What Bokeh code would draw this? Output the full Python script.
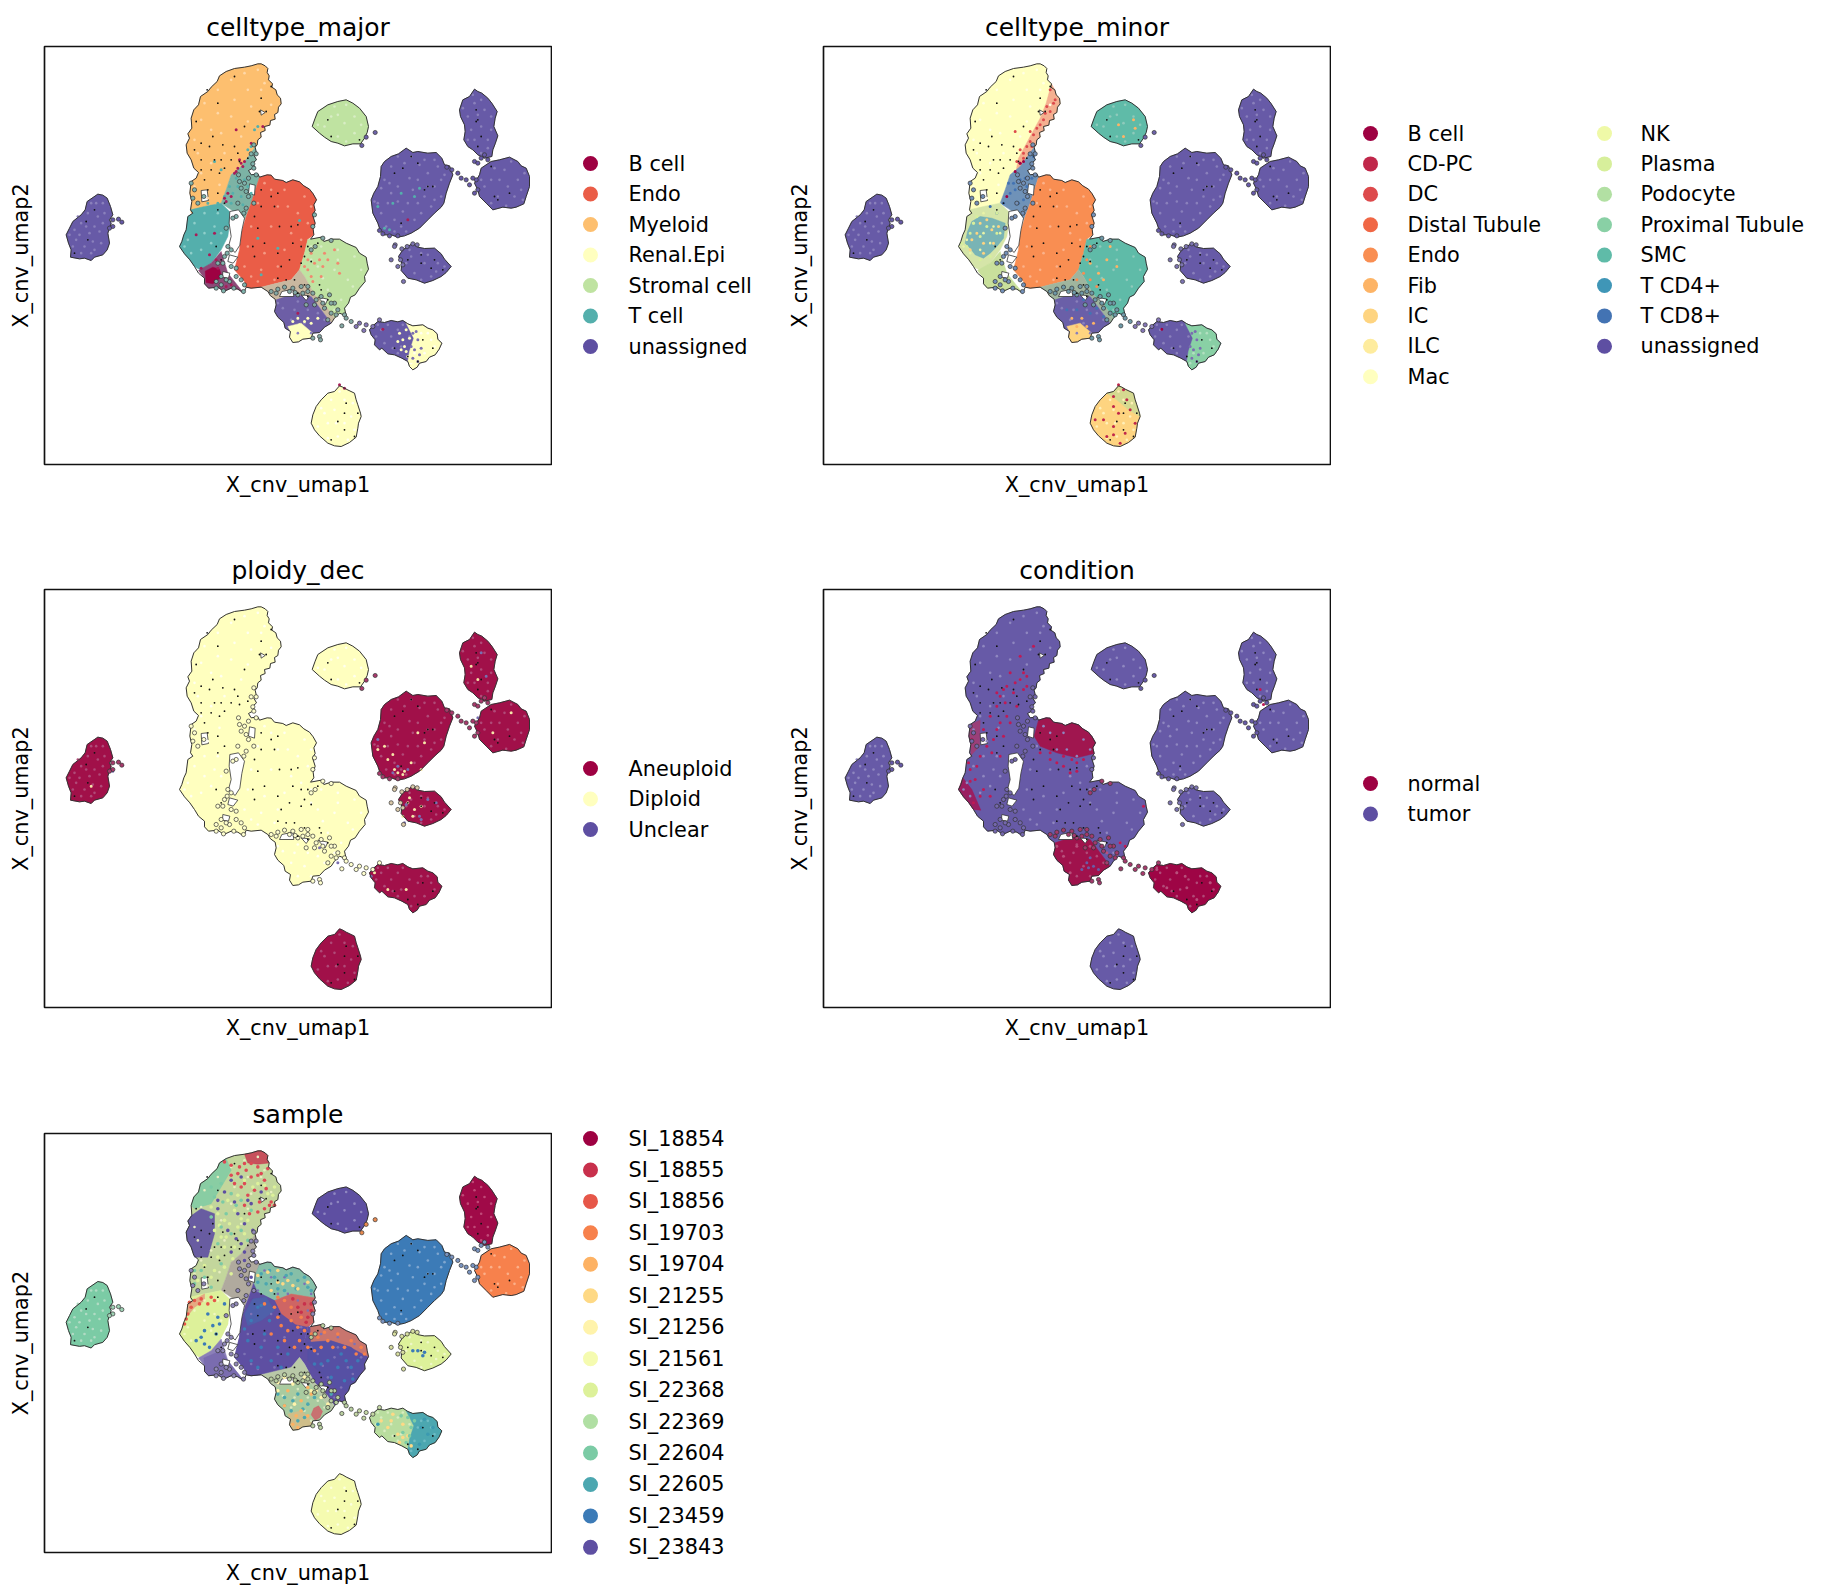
from bokeh.embed import file_html
from bokeh.resources import INLINE
from bokeh.layouts import column, row
from bokeh.models import Range1d
from bokeh.plotting import figure
from bokeh.core.properties import value

# ---------- titles / legends ----------
titles = ["celltype_major", "celltype_minor", "ploidy_dec", "condition", "sample"]
major_labels = ["B cell", "Endo", "Myeloid", "Renal.Epi", "Stromal cell", "T cell", "unassigned"]
major_colors = ["#9e0142", "#ea5d47", "#fdbf6f", "#ffffbf", "#bfe3a1", "#54afac", "#5e4fa2"]
minor_labels = ["B cell", "CD-PC", "DC", "Distal Tubule", "Endo", "Fib", "IC", "ILC", "Mac",
                "NK", "Plasma", "Podocyte", "Proximal Tubule", "SMC", "T CD4+", "T CD8+", "unassigned"]
minor_colors = ["#9e0142", "#c0274a", "#dd4a4c", "#f06745", "#f98e52", "#fdb466", "#fed480", "#feec9e", "#ffffbf",
                "#eff9a7", "#d7ef9b", "#b2e0a3", "#89d0a5", "#5fbba8", "#3f96b7", "#4373b3", "#5e4fa2"]
ploidy_labels = ["Aneuploid", "Diploid", "Unclear"]
ploidy_colors = ["#9e0142", "#ffffbf", "#5e4fa2"]
cond_labels = ["normal", "tumor"]
cond_colors = ["#9e0142", "#5e4fa2"]
sample_labels = ["SI_18854", "SI_18855", "SI_18856", "SI_19703", "SI_19704", "SI_21255", "SI_21256", "SI_21561",
                 "SI_22368", "SI_22369", "SI_22604", "SI_22605", "SI_23459", "SI_23843"]
sample_colors = ["#9e0142", "#c8304c", "#e65749", "#f7814c", "#fdb264", "#fed985", "#fff3ab", "#f5fbb0",
                 "#ddf19a", "#b0dfa3", "#7bcba5", "#4ca7b0", "#3c7bb7", "#5e4fa2"]

# ---------- cluster outlines (umap-like units, y down) ----------
mainland = [(640,52),(650,52),(662,58),(670,66),(668,78),(674,88),(672,100),(684,112),(682,122),(694,130),(698,145),(708,155),(710,172),(702,182),(700,198),
            (690,204),(692,218),(678,222),(676,236),(660,240),(662,252),(648,258),(650,272),(640,280),(638,295),(632,302),(636,320),(628,326),(636,340),(625,350),
            (630,362),(612,372),(620,385),(640,382),(645,392),(668,385),(680,386),(690,398),(715,402),(725,408),(745,400),(765,406),(778,418),(795,428),(806,442),
            (816,460),(808,475),(812,492),(804,505),(812,530),(806,548),(808,565),(798,578),(830,572),(838,585),(860,578),(885,578),(905,590),(935,603),(945,620),
            (965,632),(968,650),(972,668),(960,690),(962,705),(945,725),(932,745),(918,752),(912,770),(900,785),(905,808),(885,800),(870,815),(860,830),(840,842),
            (825,858),(805,860),(800,875),(775,878),(762,886),(745,888),(735,872),(738,855),(722,845),(718,828),(700,812),(690,795),(695,775),(692,758),(678,748),
            (670,735),(650,722),(620,725),(605,722),(598,740),(580,728),(560,725),(538,735),(520,722),(492,725),(480,712),(480,695),(462,680),(450,660),(436,640),
            (420,622),(405,600),(412,585),(418,565),(425,550),(430,510),(445,500),(438,490),(442,465),(436,440),(440,405),(455,395),(462,378),(448,365),(440,340),
            (428,320),(425,295),(435,275),(430,262),(442,245),(440,215),(448,190),(462,175),(468,150),(490,135),(500,122),(518,105),(525,88),(545,75),(570,66),(600,62),(620,58)]
hole_a = [(470,432),(488,430),(492,462),(472,466)]
hole_b = [(556,495),(582,490),(600,515),(592,552),(586,596),(572,618),(552,600),(560,570),(554,530)]
hole_c = [(615,412),(632,416),(630,446),(612,440)]
hole_d = [(712,735),(745,728),(748,750),(705,750)]
hole_e = [(555,625),(580,632),(566,650),(550,645)]
hole_f = [(535,675),(556,680),(552,695),(534,692)]
hole_g = [(648,190),(662,198),(650,206)]
hole_h = [(770,745),(795,748),(785,762)]
hole_i = [(820,752),(850,758),(842,775)]

u_upper = [(640,52),(650,52),(662,58),(670,66),(668,78),(674,88),(672,100),(684,112),(682,122),(694,130),(698,145),(708,155),(710,172),(702,182),(700,198),(690,204),(692,218),(678,222),(676,236),
           (660,240),(662,252),(648,258),(650,272),(640,280),(638,295),(632,302),(590,360),(560,385),(545,430),(530,470),(480,480),(440,500),
           (438,490),(442,465),(436,440),(440,405),(455,395),(462,378),(448,365),(440,340),(428,320),(425,295),(435,275),(430,262),(442,245),(440,215),(448,190),(462,175),(468,150),(490,135),(500,122),(518,105),(525,88),(545,75),(570,66),(600,62),(620,58)]
u_bridge = [(590,360),(632,302),(636,320),(628,326),(636,340),(625,350),(630,362),(612,372),(620,385),(640,382),(645,392),(620,470),(600,520),(560,490),(530,470),(545,430),(560,385)]
u_left = [(438,490),(480,480),(530,470),(560,500),(550,570),(530,610),(500,650),(470,672),(450,660),(436,640),(420,622),(405,600),(412,585),(418,565),(425,550),(430,510),(445,500)]
u_left_core = [(445,525),(470,510),(505,515),(545,530),(540,575),(520,600),(500,620),(480,635),(455,625),(440,605),(425,590),(432,555)]
u_bcell = [(462,672),(500,650),(530,615),(550,680),(598,740),(580,728),(560,725),(538,735),(520,722),(492,725),(480,712),(480,695)]
u_bcell_core = [(482,674),(505,662),(525,668),(532,690),(505,712),(485,708)]
u_endo = [(645,392),(668,385),(680,386),(690,398),(715,402),(725,408),(745,400),(765,406),(778,418),(795,428),(806,442),(816,460),(808,475),(812,492),(804,505),(812,530),(806,548),(808,565),(790,578),
          (780,620),(765,670),(740,700),(690,712),(650,722),(620,725),(605,722),(600,705),(570,670),(585,610),(590,560),(605,510),(620,470)]
u_stromal = [(798,578),(830,572),(838,585),(860,578),(885,578),(905,590),(935,603),(945,620),(965,632),(968,650),(972,668),(960,690),(962,705),(945,725),(932,745),(918,752),(912,770),(900,785),(905,808),
             (885,800),(870,815),(845,780),(810,745),(780,690),(765,670),(780,620),(790,578)]
u_gap = [(650,722),(690,712),(740,700),(765,670),(780,690),(810,745),(845,780),(870,815),(860,830),(800,750),(740,745),(695,775),(692,758),(678,748),(670,735)]
u_lower = [(695,760),(740,745),(800,750),(860,830),(840,842),(825,858),(805,860),(800,875),(775,878),(762,886),(745,888),(735,872),(738,855),(722,845),(718,828),(700,812),(690,795),(695,775)]
u_lower_tip = [(730,840),(770,830),(805,860),(800,875),(775,878),(762,886),(745,888),(735,872),(738,855)]
tail = [(1000,825),(1020,828),(1040,822),(1060,826),(1075,822),(1090,832),(1105,838),(1135,835),(1150,845),(1165,850),(1178,862),(1180,878),(1192,890),(1184,908),(1172,925),(1155,932),(1145,945),(1125,950),(1118,962),(1105,970),(1095,960),(1090,945),(1072,935),
        (1050,925),(1030,922),(1012,905),(1005,910),(990,895),(992,880),(980,865),(975,850),(985,838)]
tail_east = [(1085,830),(1105,838),(1135,835),(1150,845),(1165,850),(1178,862),(1180,878),(1192,890),(1184,908),(1172,925),(1155,932),(1145,945),(1125,950),(1118,962),(1105,970),(1095,960),(1090,945),(1095,915),(1108,875)]
right_top = [(1290,128),(1300,135),(1312,140),(1330,155),(1342,170),(1358,195),(1352,215),(1348,240),(1360,268),(1352,292),(1345,310),(1342,330),(1320,335),(1300,325),(1285,310),(1270,300),(1258,280),(1262,255),(1260,235),
             (1248,210),(1245,190),(1255,160),(1275,150)]
right_mid = [(1340,345),(1365,340),(1395,332),(1420,345),(1430,358),(1445,365),(1455,390),(1455,420),(1445,450),(1438,472),(1415,482),(1400,485),(1375,482),(1345,490),(1325,470),(1305,450),(1300,430),(1290,410),(1305,385),(1310,365)]
big_blob = [(1085,305),(1105,318),(1120,315),(1150,320),(1175,318),(1192,335),(1200,355),(1215,358),(1225,385),(1215,410),(1205,440),(1198,470),(1190,482),(1170,500),(1150,520),(1125,545),(1100,560),(1080,568),(1060,572),(1040,565),(1020,565),(1005,545),(1000,530),
            (985,500),(980,460),(988,440),(1000,420),(1008,390),(1010,360),(1020,345),(1040,330),(1062,322)]
small_blob = [(1105,590),(1120,602),(1140,606),(1170,605),(1190,622),(1200,638),(1220,660),(1205,678),(1190,690),(1165,702),(1140,710),(1115,700),(1090,695),(1070,672),(1072,650),(1062,630),(1075,610)]
top_blob = [(880,165),(905,160),(925,170),(945,185),(965,210),(972,240),(968,258),(960,275),(948,292),(925,292),(900,298),(880,290),(860,285),(840,272),(825,260),(803,240),(812,215),(820,195),(850,175)]
left_blob = [(160,443),(175,446),(188,455),(198,480),(205,505),(195,520),(200,530),(190,560),(195,590),(188,610),(175,625),(150,632),(140,642),(120,635),(105,637),(78,632),(80,610),(72,590),(65,565),(75,545),(85,525),(110,505),(122,490),(128,465)]
bottom_blob = [(885,1018),(895,1022),(905,1028),(930,1040),(935,1060),(940,1075),(948,1100),(950,1110),(942,1130),(940,1145),(935,1172),(915,1188),(890,1200),(870,1198),(850,1190),(825,1168),(810,1150),(800,1130),(805,1105),(815,1080),(830,1060),(850,1040),(870,1035)]
bottom_cap = [(885,1018),(895,1022),(905,1028),(930,1040),(935,1060),(940,1075),(948,1100),(950,1110),(915,1090),(880,1060),(850,1040),(870,1035)]

# sub-areas used by the mixed panels
minor_band = [(684,112),(694,130),(698,145),(708,155),(710,172),(702,182),(700,198),(690,204),(692,218),(678,222),(676,236),(660,240),(662,252),(648,258),(650,272),(640,280),(638,295),(632,302),(605,350),(575,388),(585,335),(620,270),(650,215),(668,170)]
cond_endo = [(645,392),(668,385),(680,386),(690,398),(715,402),(725,408),(745,400),(765,406),(778,418),(795,428),(806,442),(816,460),(808,475),(812,492),(760,505),(700,490),(650,470),(632,440)]
cond_rim_a = [(440,405),(470,392),(468,470),(442,498),(442,465),(436,440)]
cond_rim_b = [(405,600),(418,565),(445,600),(472,662),(450,660),(436,640),(420,622)]
s_tip = [(600,62),(620,58),(640,52),(650,52),(662,58),(670,66),(668,78),(674,88),(640,92),(610,88)]
s_topleft = [(468,150),(490,135),(500,122),(518,105),(525,88),(545,75),(560,110),(530,160),(500,210),(450,225),(440,215),(448,190),(462,175)]
s_midleft = [(442,245),(470,225),(510,240),(510,300),(490,370),(450,370),(440,340),(428,320),(425,295),(435,275),(430,262)]
s_leftmain = [(438,490),(480,480),(530,490),(550,570),(530,610),(510,650),(470,672),(450,660),(436,640),(420,622),(405,600),(412,585),(418,565),(425,550),(430,510),(445,500)]
s_leftpurple = [(478,672),(530,650),(550,680),(598,740),(580,728),(560,725),(538,735),(520,722),(492,725),(480,712),(480,695)]
s_leftred = [(430,510),(445,500),(480,480),(480,500),(450,520),(430,545)]
s_endotop = [(645,392),(668,385),(680,386),(690,398),(715,402),(725,408),(745,400),(765,406),(778,418),(795,428),(806,442),(816,460),(808,475),(812,492),(740,480),(690,500),(640,475),(625,440)]
s_endored = [(690,500),(740,480),(812,492),(804,505),(812,530),(806,548),(808,565),(790,578),(750,570),(710,540)]
s_endopurple = [(640,475),(690,500),(710,540),(750,570),(780,620),(765,670),(740,700),(690,712),(650,722),(620,725),(605,722),(600,705),(570,670),(585,610),(590,560),(605,510)]
s_endoblue = [(625,495),(665,490),(690,530),(650,560),(610,575),(600,540)]
s_strorange = [(798,578),(830,572),(838,585),(860,578),(885,578),(905,590),(935,603),(945,620),(965,632),(968,650),(972,668),(920,640),(860,620),(800,625)]
s_strpurple = [(790,625),(860,620),(920,640),(960,680),(945,725),(932,745),(918,752),(912,770),(870,760),(830,720),(790,680)]
s_lowerred = [(808,822),(822,815),(834,832),(826,850),(812,858),(800,842)]

# stray cells at the edges of the clouds
strays_gap = [(680,735),(695,740),(720,722),(745,725),(770,720),(790,735),(805,740),(830,750),(855,745),(870,770),(880,790),(900,805),(905,815),(920,825),(892,838),
              (825,870),(828,880),(805,875),(790,720),(760,745),(775,740),(810,775),(840,785),(860,800),(850,820),(700,728),(735,735),(752,738),(815,760),(835,770),(785,775),(860,770),(875,805),(835,575),(860,582),(812,600),(800,610)]
strays_bridge = [(628,295),(620,322),(635,322),(625,352),(628,365),(635,385),(612,395),(600,410),(585,405),(612,450),(628,470),(605,485),(598,500),(575,510),(545,545),(550,600),(540,630),(535,650),
                 (575,690),(600,715),(597,735),(568,725),(537,733),(515,725),(440,410),(450,430),(445,455),(478,450),(460,470),(520,650),(560,660),(575,665),(810,505),(805,540),(590,425),(605,435),(580,470),(565,515),
                 (548,620),(560,610),(590,700),(555,705),(530,715),(545,700),(530,690),(515,705),(582,385)]
strays_left = [(205,520),(222,518),(232,527),(205,540),(195,545)]
strays_tail = [(1005,820),(945,830),(935,840),(965,835),(958,852),(985,840)]
strays_right = [(1207,362),(1222,370),(1240,380),(1250,395),(1265,400),(1275,415),(1290,345),(1300,350),(1295,400),(1300,430),(1005,552),(1015,562),(1035,568),(1060,568),(1285,395),(1290,440),(1310,335),(1330,340),(1320,325)]
strays_small = [(1052,595),(1050,600),(1072,607),(1088,600),(1040,640),(1060,660),(1077,705),(1105,592),(1118,595),(1068,640),(1075,655)]
strays_top = [(992,258),(952,297),(965,272)]

# dark flecks where the outline layer shows through the cloud
flecks = [(570,90),(488,130),(680,120),(650,155),(645,195),(665,195),(520,170),(455,225),(505,270),(600,240),(570,300),(535,295),
          (470,340),(450,310),(510,340),(540,365),(525,380),(480,400),(650,430),(700,440),(690,480),(630,510),(760,535),(740,540),
          (630,630),(700,620),(660,590),(745,590),(770,600),(725,700),(700,695),(760,740),(790,750),(850,760),(1165,420),(1150,420),
          (1075,365),(1120,350),(1295,225),(1300,220),(1300,300),(1340,360),(1350,450),(150,490),(125,525),(130,580),(90,620),
          (1170,640),(1130,650),(1195,670),(1090,640),(905,1070),(900,1100),(880,1125),(930,1170),(850,220),(1050,380),(560,340),
          (580,320),(470,290),(500,370),(520,440),(540,470),(820,590),(790,600),(770,650),(750,700),(780,715),(830,730),(1135,880),(1090,930),
          (495,300),(530,340),(585,345),(610,335),(650,480),(680,450),(705,540),(735,640),(780,630),(625,600),(640,545),(710,660),(800,645),(825,715),(470,370),(490,430),(520,490),(515,600),(530,640),
          (1295,190),(1310,270),(1360,460),(1395,440),(1100,330),(1140,430),(1070,530),(1130,625),(1160,665),(900,1150),(860,1180),(940,1100),(860,270),(945,280),(1050,905),(1120,945),(1165,905)]

# pale stipple per cloud
stip_left = [(140,470),(110,530),(150,540),(95,580),(160,510),(120,600),(170,590),(135,560),(90,550),(150,610),(175,530),(110,620),(155,470),(175,470),(130,500),(165,555),(85,600),(100,510),(140,620),(180,500),(125,540),(145,585),(75,565),(105,565)]
stip_big = [(1080,350),(1120,400),(1060,420),(1150,380),(1030,470),(1090,470),(1140,450),(1050,520),(1110,520),(1000,470),(1170,420),(1020,400),(1180,360),(1070,540),(1130,500),(1040,360),
            (1100,330),(1060,330),(1140,340),(1170,340),(1200,385),(1190,450),(1160,480),(1010,500),(1025,540),(1085,555),(1040,440),(1105,430),(1075,495),(1125,355),(1035,410),(990,465),(1150,420),(1010,425),(1170,460),(1095,395),(1060,465),(1120,470),(1190,400),(1050,555)]
stip_rtop = [(1290,170),(1320,190),(1270,210),(1310,240),(1290,280),(1330,280),(1340,210),(1280,250),(1285,145),(1310,160),(1255,185),(1340,250),(1310,320),(1270,280),(1300,205),(1330,305)]
stip_rmid = [(1340,400),(1380,370),(1420,400),(1360,450),(1410,450),(1320,420),(1390,420),(1430,430),(1350,365),(1400,345),(1440,380),(1310,400),(1340,470),(1385,478),(1435,460),(1365,400)]
stip_small = [(1100,630),(1140,650),(1180,650),(1110,680),(1160,690),(1130,620),(1085,650),(1200,660),(1150,625),(1130,700),(1175,675),(1095,610)]
stip_tailw = [(1010,850),(1040,870),(1070,900),(1060,850),(1020,890),(1095,870),(995,870),(1045,905),(1030,835),(1075,835),(1000,835),(1060,920)]
stip_bottom = [(870,1090),(900,1130),(850,1130),(880,1170),(920,1110),(840,1100),(900,1060),(860,1060),(820,1140),(930,1150),(910,1180),(850,1175),(875,1130),(925,1070),(885,1035),(830,1085)]
stip_top = [(860,210),(900,230),(930,260),(880,270),(930,210),(840,240),(905,175),(950,235),(870,180),(820,235),(905,285),(880,205)]
stip_upper = [(600,80),(640,70),(560,100),(520,130),(610,130),(570,160),(480,170),(650,130),(520,200),(470,220),(620,180),(560,210),(500,250),(450,280),(590,270),(530,260),(460,320),(540,320),(500,350),(470,380),(610,225),(680,175),(660,110),(450,420),(490,455),(525,415)]
stip_endo = [(660,410),(720,430),(780,450),(640,470),(700,480),(760,500),(620,540),(680,540),(740,560),(610,600),(660,620),(720,610),(770,580),(600,660),(650,670),(700,660),(640,705),(690,700),(800,480),(730,480),(680,430),(790,530),(620,690)]
stip_str = [(830,600),(880,610),(930,630),(950,670),(820,660),(870,670),(910,700),(850,730),(890,760),(800,640),(925,720),(880,640),(835,695),(800,600),(870,790)]
stip_tcell = [(450,530),(480,560),(510,540),(430,580),(470,610),(500,590),(440,620),(480,500),(520,500),(530,560),(420,600)]
stip_lower = [(715,785),(750,790),(790,790),(820,800),(740,820),(780,830),(800,860),(760,860),(840,820),(700,770),(760,765)]
stip_taile = [(1130,860),(1160,880),(1110,920),(1140,920),(1170,900),(1120,880),(1100,950),(1150,860)]

# marks of other classes, placed as seen in each panel
maj_teal = [(600,400),(580,420),(590,450),(565,440),(560,470),(610,420),(575,395),(620,440),(595,475),(585,385),(630,250),(610,310),(640,240),(620,300),(510,345),(530,370),(545,500),(555,420),(540,450),(520,470),(490,470),(460,490),(500,480)]
maj_red = [(590,350),(600,345),(575,375),(560,450),(545,465),(580,365),(550,440),(655,240),(620,290),(575,250),(510,560),(455,565),(495,625),(530,650),(515,640),(1090,520),(1015,848),(760,800),(885,1015),(900,1025),(570,380),(595,360),(585,340),(540,455),(520,665),(470,665),(545,720),(560,715)]
maj_str_red = [(840,620),(880,650),(830,690),(885,680),(850,640),(810,650),(800,690),(870,610),(835,660),(790,640),(780,660),(800,620),(825,640),(790,670),(805,705)]
maj_tail_yel = [(1075,880),(1085,850),(1070,910),(1090,930),(1100,945),(1065,860),(1080,900),(1060,885),(1095,875),(1085,915)]
maj_tail_pur = [(1120,880),(1110,910),(1125,925),(1105,860),(1120,945),(1100,900),(1105,935),(1115,855),(1130,905)]
maj_low_yel = [(760,815),(780,825),(800,830),(820,815),(745,825),(765,835),(790,815)]
maj_end_teal = [(765,522),(640,575),(700,605),(650,685),(1045,470),(1125,425),(1070,440),(1020,545),(1035,550),(1000,480),(1110,450)]

min_band = [(670,180),(680,195),(660,220),(640,245),(620,285),(600,320),(575,255),(590,350),(610,300),(690,170),(650,235),(630,265),(680,130),(695,160),(665,200),(620,255),(600,335),(580,345),(625,300),(590,310)]
min_dark = [(590,350),(575,375),(600,345),(550,450),(1015,848)]
min_blue = [(590,400),(575,430),(610,420),(540,470),(560,440),(600,460),(625,395),(585,470),(555,410),(630,330),(520,500),(500,480),(605,395),(570,410)]
min_plasma = [(440,560),(470,640),(430,600),(450,530),(500,630),(415,590),(460,510),(520,500),(490,540),(520,560),(470,570)]
min_yellow = [(445,580),(480,620),(460,560),(510,590),(525,540),(490,520),(470,530),(505,550),(440,610),(480,590)]
min_red_bt = [(870,1080),(840,1120),(870,1140),(905,1160),(850,1170),(890,1190),(815,1120),(910,1060),(885,1015),(900,1030),(935,1130),(870,1050),(870,1165),(885,1100),(920,1090)]
min_smc_o = [(850,640),(880,660),(840,700),(930,220),(885,235),(800,650),(860,600),(825,680),(935,245),(900,270)]
min_orange_gap = [(760,700),(790,640),(780,680),(800,700),(775,620),(820,720),(800,600)]
min_lower_blue = [(760,790),(800,800),(820,785),(780,760),(730,790),(840,810)]
min_lower_o = [(760,840),(790,840),(745,815),(810,830),(775,815)]

con_red_up = [(530,320),(550,290),(590,270),(570,310),(545,340),(600,300),(520,350),(580,350),(610,260),(560,250),(590,200),(630,170),(550,380),(500,380),(520,420),(470,500),(480,420),(540,440),
              (505,490),(440,540),(480,600),(500,620),(450,640),(455,570),(700,520),(740,550),(760,520),(720,500),(780,510),(650,490),(680,510),(960,650),(905,770),(870,770),(890,760),(1310,300),(1320,345),
              (540,300),(575,280),(610,290),(520,310),(600,250),(530,400),(510,450),(560,400),(490,470),(530,500),(440,575),(470,620),(460,530),(435,520),(445,450),(720,530),(760,545),(680,490),(745,510)]
con_pur_low = [(790,820),(810,830),(800,805),(825,840),(775,840),(795,835)]
con_red_low = [(700,770),(720,800),(760,770),(800,770),(850,790),(880,795),(1090,895),(1000,840),(1030,895),(1120,930),(1060,850),(740,850),(1160,880),(1085,860)]

plo_yel = [(1000,480),(1030,510),(1060,550),(1080,545),(1020,470),(1120,430),(1045,495),(1100,520),(1140,460),(1130,540),(1090,640),(1110,660),(1075,680),(1300,270),(1280,230),(1400,370),(1345,430),(140,590),
           (1085,900),(1030,900),(990,850),(1130,650),(1050,540),(1075,555),(1095,625),(1105,680)]
plo_pur = [(1045,550),(1090,540),(1000,450),(1310,190),(1325,260),(1300,385),(1085,645),(1130,690),(1080,700),(1150,630),(980,860),(825,775),(880,820),(205,545),(1060,530),(1125,680),(1175,640)]

sam_up_red = [(600,90),(640,100),(620,130),(660,140),(580,120),(590,160),(610,185),(680,205),(660,225),(630,170),(650,120),(570,150),(600,215),(675,215),(640,235),(540,85),(560,95),(620,90),
              (585,100),(640,125),(600,150),(665,165),(645,205),(615,240),(560,125),(605,110),(690,215),(670,105)]
sam_up_yel = [(690,160),(670,180),(640,150),(600,140),(550,200),(570,230),(540,260),(610,260),(530,310),(570,340),(600,300),(520,240),(500,220),(580,280),(540,340),(510,290),(560,420),(540,400),(500,430),(480,395),
              (660,155),(685,185),(625,160),(580,185),(555,270),(525,275),(590,255),(545,310),(520,370),(565,375),(510,410),(460,440)]
sam_up_teal = [(560,180),(530,150),(590,200),(620,230),(510,190),(500,160),(545,240),(560,300),(520,330),(500,250),(610,320),(530,390),(470,410),(500,460),(450,450),(535,205),(575,215),(530,280),(590,290),(480,430),(450,410)]
sam_up_pur = [(590,130),(620,210),(650,175),(560,140),(580,240),(600,270),(550,290),(590,330),(520,200),(570,205),(625,290),(600,380),(620,430),(540,175),(610,200),(575,315),(520,225),(560,355),(600,355)]
sam_left_blue = [(520,550),(480,590),(515,600),(495,640),(470,610),(540,510),(455,620),(490,540),(505,575),(480,630),(525,570)]
sam_left_red = [(440,520),(450,500),(430,540),(470,495),(490,510),(510,500),(420,570),(435,505),(465,510),(425,555),(500,490)]
sam_endo_teal = [(650,420),(690,430),(760,440),(790,460),(720,470),(665,450),(780,430),(740,420),(700,465),(800,470),(675,410),(725,425),(755,465),(640,445)]
sam_endo_yel = [(700,410),(730,440),(760,465),(670,415),(715,450),(680,470),(745,455),(790,445),(640,425),(700,445)]
sam_endo_org = [(690,520),(720,500),(740,560),(700,550),(760,580),(720,620),(680,600),(750,640),(730,590),(770,550),(660,510),(700,490),(740,520),(780,590),(765,620),(710,575)]
sam_endo_red = [(780,510),(800,530),(770,535),(790,550),(760,520),(800,510),(745,495),(785,565)]
sam_end_blue = [(640,520),(620,560),(660,600),(610,620),(700,640),(650,640),(620,680),(680,680),(730,660),(600,585),(640,700),(710,700),(675,560),(650,515)]
sam_str_org = [(840,595),(880,600),(920,620),(950,640),(960,660),(850,620),(900,640),(820,610),(810,650),(830,640),(865,640),(935,660),(800,600),(790,640)]
sam_str_blue = [(880,700),(920,700),(850,680),(900,740),(860,730),(940,680),(830,690),(890,660),(925,735),(810,690),(905,680)]
sam_low_teal = [(720,790),(760,780),(740,830),(780,850),(810,790),(760,860),(700,780),(790,810),(860,780),(880,790),(745,800),(775,825),(720,815)]
sam_low_org = [(730,770),(770,800),(760,880),(745,870),(800,780),(790,760),(720,815),(770,830),(790,845),(755,845)]
sam_low_yel = [(700,770),(750,810),(800,770),(745,750),(780,730),(830,790),(850,810),(700,745),(720,730),(815,770)]
sam_tail_org = [(1030,880),(1060,900),(1010,860),(1090,905),(1075,870),(1045,840),(1100,935),(1040,860),(1065,925),(1075,910)]
sam_tail_teal = [(1090,850),(1075,895),(1100,880),(1085,925),(1110,860),(1070,845),(1095,905)]
sam_tail_grn = [(1000,870),(1130,880),(1150,900),(1125,930),(1140,855),(1165,880)]
sam_small_b = [(1120,650),(1135,665),(1105,650),(1140,655)]

holes = [hole_a, hole_b, hole_c, hole_d, hole_e, hole_f, hole_g, hole_h, hole_i]
outlines = [mainland, tail, right_top, right_mid, big_blob, small_blob, top_blob, left_blob, bottom_blob]
strays = [strays_gap, strays_bridge, strays_left, strays_tail, strays_right, strays_small, strays_top]
stipples = [stip_left, stip_big, stip_rtop, stip_rmid, stip_small, stip_tailw, stip_bottom, stip_top, stip_upper, stip_endo, stip_str, stip_tcell, stip_lower, stip_taile]

PUR = "#5e4fa2"; PURL = "#675aa7"; STIP = "#8f87c0"; PK = "#b04a78"

panel_fills = {
 "celltype_major": [(u_upper,"#fdbf6f"),(u_bridge,"#7cb3a5"),(u_left,"#54afac"),(u_bcell,"#8d4a78"),(u_bcell_core,"#9e0142"),
    (u_endo,"#ea5d47"),(u_stromal,"#bfe3a1"),(u_gap,"#c9b8a0"),(u_lower,"#6d5ea6"),(u_lower_tip,"#ffffbf"),
    (tail,PURL),(tail_east,"#ffffbf"),(right_top,PURL),(right_mid,PURL),(big_blob,PURL),(small_blob,PURL),(top_blob,"#bfe3a1"),(left_blob,PURL),(bottom_blob,"#ffffbf")],
 "celltype_minor": [(u_upper,"#ffffbf"),(minor_band,"#f5b090"),(u_bridge,"#6f92b8"),(u_left,"#d5e5a8"),(u_left_core,"#62a8b8",0.8),(u_bcell,"#c9e09c"),
    (u_endo,"#f98e52"),(u_stromal,"#5fbba8"),(u_gap,"#9fb59e"),(u_lower,"#6a5fa8"),(u_lower_tip,"#fed480"),
    (tail,PURL),(tail_east,"#89d0a5"),(right_top,PURL),(right_mid,PURL),(big_blob,PURL),(small_blob,PURL),(top_blob,"#5fbba8"),(left_blob,PURL),(bottom_blob,"#fed480"),(bottom_cap,"#c3dc97",0.7)],
 "ploidy_dec": [(mainland,"#ffffbf"),(tail,"#a11049"),(right_top,"#a11049"),(right_mid,"#a11049"),(big_blob,"#a11049"),(small_blob,"#a11049"),(top_blob,"#ffffbf"),(left_blob,"#a11049"),(bottom_blob,"#a11049")],
 "condition": [(mainland,PURL),(cond_endo,"#a0164f"),(cond_rim_a,"#a8386e",0.8),(cond_rim_b,"#a81050",0.8),(u_lower,"#a0124c"),(tail,"#9e0545"),
    (right_top,PURL),(right_mid,PURL),(big_blob,PURL),(small_blob,PURL),(top_blob,PURL),(left_blob,PURL),(bottom_blob,PURL)],
 "sample": [(u_upper,"#c3d69c"),(s_tip,"#c8304c",0.8),(s_topleft,"#7bcba5",0.8),(s_midleft,"#5e4fa2",0.9),(u_bridge,"#b0aa9e"),(u_left,"#ddf19a"),(s_leftmain,"#ddf19a"),(s_leftred,"#e88a78",0.7),(u_bcell,"#8b7fb8"),(s_leftpurple,"#7568ad",0.8),
    (u_endo,"#5e4fa2"),(s_endotop,"#86bfa8"),(s_endored,"#ea6a55",0.8),(s_endopurple,"#5e4fa2"),(s_endoblue,"#4968ae",0.7),
    (u_stromal,"#5e4fa2"),(s_strorange,"#e27e62",0.8),(s_strpurple,"#5650a4"),(u_gap,"#b9c9a8"),(u_lower,"#a9cba0"),(s_lowerred,"#d84058",0.65),(u_lower_tip,"#e0b880",0.7),
    (tail,"#b9dd9f"),(tail_east,"#4ca7b0"),(right_top,"#a00a48"),(right_mid,"#f7814c"),(big_blob,"#3c7bb7"),(small_blob,"#ddf19a"),(top_blob,PUR),(left_blob,"#7bcba5"),(bottom_blob,"#f5fbb0")],
}
panel_strays = {
 "celltype_major": ["#85a9a5","#7fb2ac",PURL,"#8577b6",PURL,"#7c74b0","#6d62a8"],
 "celltype_minor": ["#6f9aa8","#7390b8",PURL,"#8577b6",PURL,"#7c74b0","#6d62a8"],
 "ploidy_dec": ["#ffffcf","#ffffcf","#a83a6c","#ffffcf","#a83a6c","#d9c8a8","#a83a6c"],
 "condition": ["#a33a6c","#7568ad",PURL,"#a83a6c",PURL,"#7c74b0",PURL],
 "sample": ["#b9cfa0","#9088b8","#9fd2b5","#c5d8a5","#7a94c0","#d8dfa0","#e88a50"],
}
S_P = "#8a80bc"
panel_stip = {
 "celltype_major": [S_P]*6 + ["#fffff0","#d8edc5","#ffd8a8","#f59a84","#d8edc5","#8fcfca",S_P,"#fffff0"],
 "celltype_minor": [S_P]*6 + ["#fff0b8","#8fcabb","#ffffe5","#fbb28a","#8fcabb","#e8f3a8",S_P,"#b2e0c0"],
 "ploidy_dec": [PK]*6 + [PK,"#fffff0","#fffff0","#fffff0","#fffff0","#fffff0","#fffff0",PK],
 "condition": [STIP]*5 + [PK,STIP,STIP,STIP,STIP,STIP,STIP,PK,PK],
 "sample": ["#b2dbc4","#7fa6cf","#c04a78","#fbb08a","#eef7c8","#d7ecc0","#fcffdd","#8f87c0","#e8eec0","#7d72b5","#7d72b5","#f0f8c0","#d8e8c0","#6fbcc4"],
}
panel_marks = {
 "celltype_major": [(maj_teal,"#54afac"),(maj_red,"#a81c58"),(maj_str_red,"#f08a70"),(maj_tail_yel,"#ffffbf"),(maj_tail_pur,"#7a6eb0"),(maj_low_yel,"#ffffbf"),(maj_end_teal,"#54afac")],
 "celltype_minor": [(min_band,"#dd4a4c"),(min_dark,"#9e0142"),(min_blue,"#4373b3"),(min_plasma,"#d7ef9b"),(min_yellow,"#fed480"),(min_red_bt,"#c0274a"),(min_smc_o,"#fdb466"),(min_orange_gap,"#f98e52"),
                    (maj_tail_pur,"#7a6eb0"),(min_lower_blue,"#4373b3"),(min_lower_o,"#fdb466")],
 "ploidy_dec": [(plo_yel,"#f5e6a8"),(plo_pur,"#7a6eb0")],
 "condition": [(con_red_up,"#c01a55"),(con_pur_low,"#6a5ca8"),(con_red_low,"#b8507c")],
 "sample": [(sam_up_red,"#dd4a55"),(sam_up_yel,"#ddf19a"),(sam_up_teal,"#7bcba5"),(sam_up_pur,"#5e4fa2"),(sam_left_blue,"#3c7bb7"),(sam_left_red,"#e65749"),(sam_endo_teal,"#4ca7b0"),(sam_endo_yel,"#fed985"),
            (sam_endo_org,"#f7814c"),(sam_endo_red,"#c8304c"),(sam_end_blue,"#3c7bb7"),(sam_str_org,"#f7814c"),(sam_str_blue,"#3c7bb7"),(sam_low_teal,"#4ca7b0"),(sam_low_org,"#fdb264"),(sam_low_yel,"#fff3ab"),
            (sam_tail_org,"#fed985"),(sam_tail_teal,"#7bcba5"),(sam_tail_grn,"#3c9ab0"),(sam_small_b,"#3c7bb7")],
}

FONT = "DejaVu Sans"
X_END, Y_END = 1521, 1254

def xs(pts): return [a for a, _ in pts]
def ys(pts): return [b for _, b in pts]

def panel(name, top, bottom, left=40, frame_h=418):
    p = figure(width=left + 508, height=top + frame_h + bottom, frame_width=507, frame_height=frame_h,
               x_range=Range1d(0, X_END), y_range=Range1d(Y_END, 0), output_backend="svg", toolbar_location=None,
               min_border_left=left, min_border_right=1, min_border_top=top, min_border_bottom=bottom,
               x_axis_label="X_cnv_umap1", y_axis_label="X_cnv_umap2", title=name)
    p.grid.visible = False
    p.background_fill_color = "white"
    p.outline_line_color = "#111111"
    p.outline_line_width = 1.67
    p.title.align = "center"
    p.title.text_font = FONT
    p.title.text_font_size = "25px"
    p.title.text_font_style = "normal"
    p.title.text_color = "black"
    p.title.standoff = 10
    for ax in (p.xaxis[0], p.yaxis[0]):
        ax.ticker = []
        ax.axis_line_color = None
        ax.major_tick_line_color = None
        ax.minor_tick_line_color = None
        ax.major_label_text_font_size = "0px"
        ax.axis_label_text_font = FONT
        ax.axis_label_text_font_size = "20.8px"
        ax.axis_label_text_font_style = "normal"
        ax.axis_label_text_color = "black"
    p.xaxis[0].axis_label_standoff = 8
    p.yaxis[0].axis_label_standoff = 12
    for item in panel_fills[name]:
        pts, col, *rest = item
        alpha = rest[0] if rest else 1.0
        p.patch(xs(pts), ys(pts), fill_color=col, fill_alpha=alpha, line_color=col, line_alpha=alpha, line_width=0.5)
    for pts in holes:
        p.patch(xs(pts), ys(pts), fill_color="white", line_color="#333333", line_width=0.8)
    for pts, col in zip(stipples, panel_stip[name]):
        p.scatter(xs(pts), ys(pts), size=2.6, fill_color=col, line_color=None)
    mark = 3.6 if name == "sample" else 3
    for pts, col in panel_marks[name]:
        p.scatter(xs(pts), ys(pts), size=mark, fill_color=col, line_color=None)
    for pts in outlines:
        p.patch(xs(pts), ys(pts), fill_color=None, line_color="#333333", line_width=1.0)
    for pts, col in zip(strays, panel_strays[name]):
        p.scatter(xs(pts), ys(pts), size=4.2, fill_color=col, line_color="#333333", line_width=0.7)
    p.scatter(xs(flecks), ys(flecks), size=1.8, fill_color="#111111", line_color=None)
    return p

def legend_fig(width, height, columns):
    """columns: list of (labels, colours, marker_x, text_x, first_y, step), all in figure-local pixels."""
    p = figure(width=width, height=height, frame_width=width, frame_height=height,
               x_range=Range1d(0, width), y_range=Range1d(height, 0), output_backend="svg", toolbar_location=None,
               min_border=0)
    p.axis.visible = False
    p.grid.visible = False
    p.outline_line_color = None
    for labels, colors, mx, tx, y0, step in columns:
        yy = [y0 + i * step for i in range(len(labels))]
        p.scatter([mx] * len(labels), yy, size=15, fill_color=colors, line_color=None)
        p.text([tx] * len(labels), yy, text=labels, text_font=value(FONT), text_font_size="20.8px",
               text_baseline="middle", text_align="left", text_color="black")
    return p

R1_Y, R2_Y, R3_Y = 0, 508, 1051
LEG_L_X, LEG_R_X = 552, 1331   # page x where the legend figures start
LEG_L_W = 231                  # puts the right-hand panels' frame at x = 823

p1 = panel(titles[0], 46, 44, left=44)
l1 = column(legend_fig(LEG_L_W, 508, [(major_labels, major_colors, 590 - LEG_L_X, 628 - LEG_L_X, 163 - R1_Y, 30.5)]))
p2 = panel(titles[1], 46, 44)
l2 = column(legend_fig(488, 508, [(minor_labels[:9], minor_colors[:9], 1370 - LEG_R_X, 1407 - LEG_R_X, 133 - R1_Y, 30.4),
                                  (minor_labels[9:], minor_colors[9:], 1604 - LEG_R_X, 1640 - LEG_R_X, 133 - R1_Y, 30.4)]))
p3 = panel(titles[2], 81, 44, left=44)
l3 = column(legend_fig(LEG_L_W, 543, [(ploidy_labels, ploidy_colors, 590 - LEG_L_X, 628 - LEG_L_X, 768 - R2_Y, 30.5)]))
p4 = panel(titles[3], 81, 44)
l4 = column(legend_fig(488, 543, [(cond_labels, cond_colors, 1370 - LEG_R_X, 1407 - LEG_R_X, 783 - R2_Y, 30.5)]))
p5 = panel(titles[4], 82, 38, left=44, frame_h=419)
l5 = column(legend_fig(LEG_L_W, 539, [(sample_labels, sample_colors, 590 - LEG_L_X, 628 - LEG_L_X, 1138 - R3_Y, 31.45)]))

page = column(row(p1, l1, p2, l2), row(p3, l3, p4, l4), row(p5, l5))
open("out.html", "w").write(file_html(page, INLINE))
